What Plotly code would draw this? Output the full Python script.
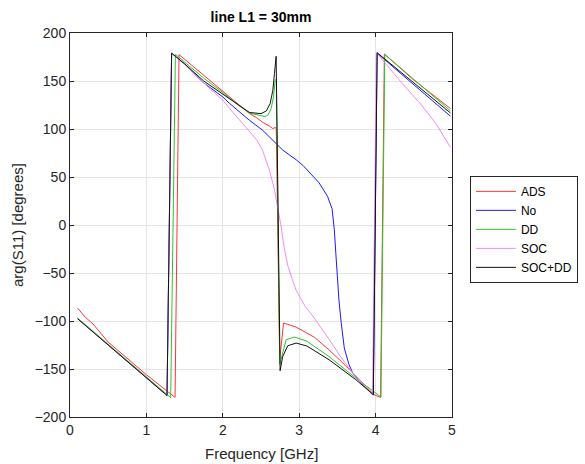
import plotly.graph_objects as go

# ---- data (frequency in GHz, phase in degrees) ----
ads_f = [0.1, 0.2, 0.3, 0.5, 1.0, 1.375, 1.427, 1.75, 2.0, 2.2, 2.35, 2.44, 2.52, 2.61, 2.655, 2.685, 2.70,
         2.745, 2.795, 2.85, 2.96, 3.2, 3.39, 3.6, 3.74, 3.98, 4.065, 4.115, 4.5, 4.98]
ads_v = [-86.6, -96, -103, -122, -156, -179.5, 177.5, 156, 139, 126, 116, 112, 107, 103, 100.5, 101.5, 101,
         -140, -102.2, -103.5, -106.3, -117, -130, -146, -157.7, -176.8, -179.5, 178, 151, 121.3]

no_f = [0.1, 0.5, 1.0, 1.27, 1.33, 1.5, 1.75, 2.0, 2.09, 2.35, 2.52, 2.72, 2.785, 2.96, 3.05, 3.26, 3.37,
        3.43, 3.46, 3.48, 3.50, 3.52, 3.55, 3.59, 3.65, 3.70, 3.85, 3.97, 4.02, 4.5, 4.98]
no_v = [-97.5, -125, -159.5, -177.6, 179, 167.5, 148, 133.4, 126.5, 109, 98.8, 83.2, 78, 68, 62, 44, 30,
        17, -5, -30, -55, -78, -102, -128, -145, -154, -168, -177, 179, 146, 113.3]

dd_f = [0.1, 0.5, 1.0, 1.318, 1.38, 1.75, 2.0, 2.2, 2.35, 2.44, 2.5, 2.55, 2.59, 2.633, 2.663, 2.685, 2.70,
        2.745, 2.83, 2.937, 3.1, 3.39, 3.74, 4.07, 4.12, 4.5, 4.98]
dd_v = [-97, -124, -158, -179.8, 177.8, 153, 138, 125, 116.5, 115, 113.3, 113, 114.3, 121.3, 133.4, 150.7, 152,
        -145, -119.5, -116.7, -121, -137, -159.4, -179.2, 177.8, 152, 118.8]

soc_f = [0.1, 0.5, 1.0, 1.27, 1.33, 1.5, 1.75, 2.0, 2.09, 2.35, 2.44, 2.52, 2.61, 2.676, 2.72, 2.76, 2.80,
         2.85, 2.915, 2.96, 3.08, 3.18, 3.39, 3.55, 3.70, 3.85, 3.96, 4.01, 4.13, 4.35, 4.6, 4.79, 4.98]
soc_v = [-97.7, -125, -159.5, -177.6, 179, 167, 148, 130, 121.3, 97, 89, 78, 57, 37, 18, 0, -22,
         -42, -58, -68, -85, -95, -119, -138, -154, -167, -177, 179.5, 168, 147.3, 125, 105.7, 80.8]

socdd_f = [0.1, 0.5, 1.0, 1.27, 1.33, 1.5, 1.75, 2.0, 2.2, 2.35, 2.5, 2.57, 2.62, 2.655, 2.676, 2.698,
           2.75, 2.784, 2.85, 2.96, 3.1, 3.39, 3.74, 3.97, 4.02, 4.5, 4.98]
socdd_v = [-97.7, -125, -159.5, -177.6, 179, 168, 150, 136.5, 125, 117.2, 116, 118.8, 126.5, 140.3, 157.7, 175.7,
           -151.8, -137, -125.8, -123, -126, -140.3, -161, -176.8, 179.5, 148, 116.7]

x_ticks = [0, 1, 2, 3, 4, 5]
y_ticks = [-200, -150, -100, -50, 0, 50, 100, 150, 200]

series = [
    ("ADS", ads_f, ads_v, "#ff3333"),
    ("No", no_f, no_v, "#1a1aff"),
    ("DD", dd_f, dd_v, "#2ec42e"),
    ("SOC", soc_f, soc_v, "#f08cf0"),
    ("SOC+DD", socdd_f, socdd_v, "#111111"),
]

fig = go.Figure()
for name, f, v, c in series:
    fig.add_trace(go.Scatter(x=f, y=v, mode="lines", name=name,
                             line=dict(color=c, width=1)))

FONT = "Liberation Sans, Arial, sans-serif"
axis_common = dict(
    showline=True, linecolor="#262626", linewidth=1, mirror="ticks",
    ticks="inside", ticklen=4, tickcolor="#262626",
    showgrid=True, gridcolor="#e4e4e4", gridwidth=1, zeroline=False,
    automargin=False,
    tickfont=dict(family=FONT, size=14, color="#262626"),
)

fig.update_layout(
    width=585, height=464,
    margin=dict(l=70, r=133, t=33, b=47, autoexpand=False),
    paper_bgcolor="white", plot_bgcolor="white",
    title=dict(text="<b>line L1 = 30mm</b>", x=0.5, xref="paper", xanchor="center",
               y=1 - 17 / 464, yref="container", yanchor="middle",
               font=dict(family=FONT, size=14, color="#000000")),
    xaxis=dict(range=[0, 5], tickvals=x_ticks, **axis_common),
    yaxis=dict(range=[-200, 200], tickvals=y_ticks, **axis_common),
    legend=dict(x=1.047, xanchor="left", y=0.628, yanchor="top",
                bgcolor="white", bordercolor="#262626", borderwidth=1,
                font=dict(family=FONT, size=12, color="#000000"),
                tracegroupgap=0, itemwidth=40),
    showlegend=True,
    annotations=[
        dict(text="Frequency [GHz]", xref="paper", yref="paper", x=0.5, y=-36 / 384,
             xanchor="center", yanchor="middle", showarrow=False,
             font=dict(family=FONT, size=15, color="#262626")),
        dict(text="arg(S11) [degrees]", xref="paper", yref="paper", x=-53 / 382, y=0.5,
             xanchor="center", yanchor="middle", showarrow=False, textangle=-90,
             font=dict(family=FONT, size=15, color="#262626")),
    ],
)

fig.write_html("out.html")
